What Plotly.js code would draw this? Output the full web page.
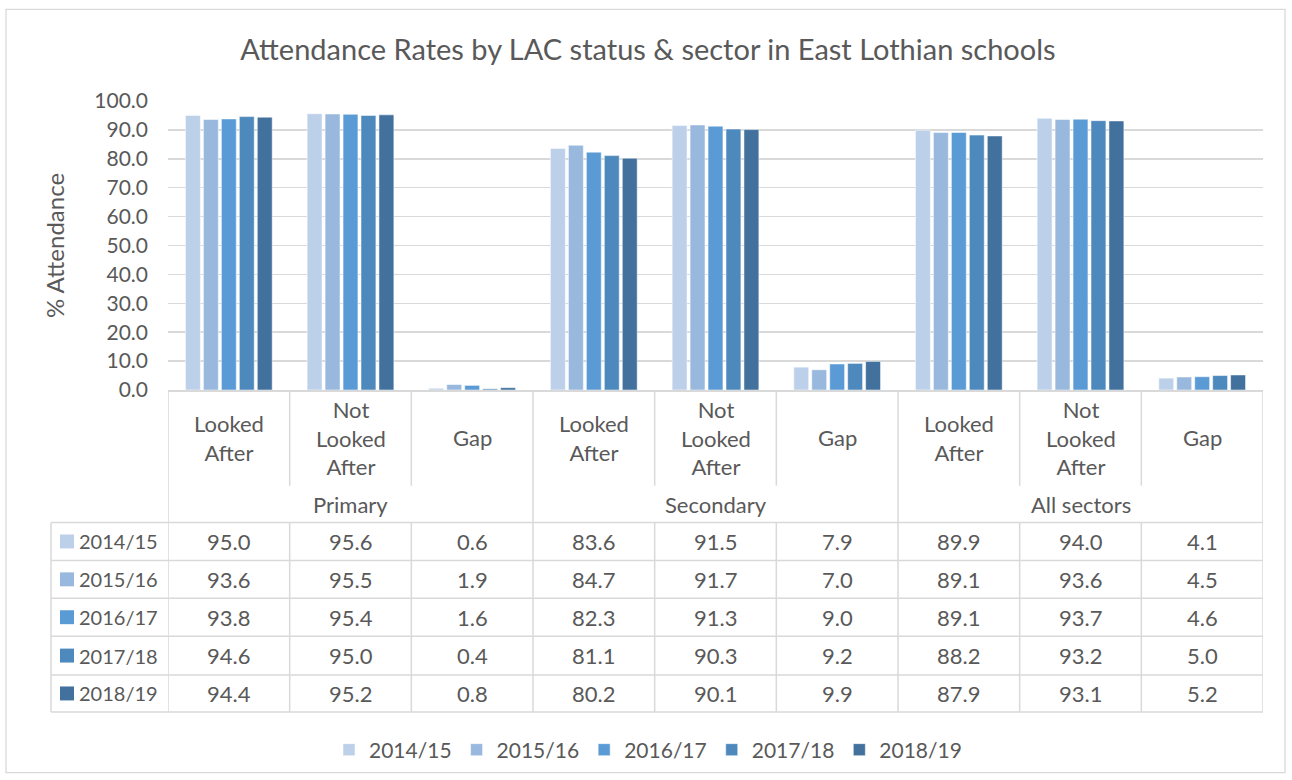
<!DOCTYPE html>
<html><head><meta charset="utf-8">
<script src="https://cdn.plot.ly/plotly-3.0.1.min.js"></script>
<style>body{margin:0;background:#fff}</style>
</head><body><div id="chart" style="width:1292px;height:780px"></div>
<script>
// ---- data ----
const categoryLabels = ["Looked<br>After","Not<br>Looked<br>After","Gap","Looked<br>After","Not<br>Looked<br>After","Gap","Looked<br>After","Not<br>Looked<br>After","Gap"];
const groups = ["Primary","Secondary","All sectors"];
const years = ["2014/15","2015/16","2016/17","2017/18","2018/19"];
const v2014_15 = [95.0,95.6,0.6,83.6,91.5,7.9,89.9,94.0,4.1];
const v2015_16 = [93.6,95.5,1.9,84.7,91.7,7.0,89.1,93.6,4.5];
const v2016_17 = [93.8,95.4,1.6,82.3,91.3,9.0,89.1,93.7,4.6];
const v2017_18 = [94.6,95.0,0.4,81.1,90.3,9.2,88.2,93.2,5.0];
const v2018_19 = [94.4,95.2,0.8,80.2,90.1,9.9,87.9,93.1,5.2];
const series = [v2014_15,v2015_16,v2016_17,v2017_18,v2018_19];
const colors = ["#BDD0EA","#98B8DE","#5B9BD5","#4E89BD","#41719C"];

// ---- layout geometry ----
const FW = 1292, FH = 780;
const L = 168, R = 29, T = 101, B = 389;
const W = FW - L - R, H = FH - T - B;
const py = y => (T + H - y) / H;     // pixel y -> paper y
const pxp = x => (x - L) / W;        // pixel x -> paper x
const FONT = "Lato, 'Open Sans', sans-serif";
const TXT = "#595959";
const LINE = "#D9D9D9";
const FS = 22;

const xs = categoryLabels.map((_, i) => i);

const traces = series.map((vals, k) => ({
  type: "bar",
  name: years[k],
  x: xs,
  y: vals,
  marker: {color: colors[k], line: {color: "rgba(255,255,255,0.5)", width: 1}},
  hoverinfo: "y+name"
}));

const shapes = [];
const annotations = [];
const ln = (s) => shapes.push(Object.assign({type: "line", line: {color: LINE, width: 1.5}, layer: "above"}, s));

// table geometry (pixels)
const headTop = 391, headBottom = 487, groupBottom = 524;
const rowTops = [524, 562, 600, 638, 677];
const rowBottom = 714;
const tableLeft = 51;

// vertical lines between categories
for (let i = 0; i <= xs.length; i++) {
  const xb = i - 0.5;
  const full = (i % 3 === 0);
  ln({xref: "x", yref: "paper", x0: xb, x1: xb, y0: py(headTop), y1: py(full ? rowBottom : headBottom)});
  if (!full) ln({xref: "x", yref: "paper", x0: xb, x1: xb, y0: py(groupBottom), y1: py(rowBottom)});
}
// horizontal lines
rowTops.concat([rowBottom]).forEach(y => {
  ln({xref: "paper", yref: "paper", x0: pxp(tableLeft), x1: 1, y0: py(y), y1: py(y)});
});
// left border of row labels
ln({xref: "paper", yref: "paper", x0: pxp(tableLeft), x1: pxp(tableLeft), y0: py(groupBottom), y1: py(rowBottom)});

// outer chart border
shapes.push({type: "rect", xref: "paper", yref: "paper", x0: pxp(6), x1: pxp(1285), y0: py(9), y1: py(775),
  line: {color: LINE, width: 1.3}, fillcolor: "rgba(0,0,0,0)", layer: "below"});

// category header labels
categoryLabels.forEach((lab, i) => {
  annotations.push({xref: "x", yref: "paper", x: i, y: py((headTop + headBottom) / 2), text: lab,
    showarrow: false, font: {family: FONT, size: FS, color: TXT}, xanchor: "center", yanchor: "middle", align: "center"});
});
// group labels
groups.forEach((g, j) => {
  annotations.push({xref: "x", yref: "paper", x: j * 3 + 1, y: py((headBottom + groupBottom) / 2), text: g,
    showarrow: false, font: {family: FONT, size: FS, color: TXT}, xanchor: "center", yanchor: "middle"});
});
// row labels and values
series.forEach((vals, k) => {
  const yc = (rowTops[k] + (k < 4 ? rowTops[k + 1] : rowBottom)) / 2;
  shapes.push({type: "rect", xref: "paper", yref: "paper", x0: pxp(60), x1: pxp(74), y0: py(yc - 7), y1: py(yc + 7),
    fillcolor: colors[k], line: {width: 0}});
  annotations.push({xref: "paper", yref: "paper", x: pxp(77), y: py(yc), text: years[k], showarrow: false,
    font: {family: FONT, size: 20, color: TXT}, xanchor: "left", yanchor: "middle"});
  vals.forEach((v, i) => {
    annotations.push({xref: "x", yref: "paper", x: i, y: py(yc), text: v.toFixed(1), showarrow: false,
      font: {family: FONT, size: FS, color: TXT}, xanchor: "center", yanchor: "middle"});
  });
});

const layout = {
  width: FW, height: FH,
  margin: {l: L, r: R, t: T, b: B},
  paper_bgcolor: "#fff", plot_bgcolor: "#fff",
  font: {family: FONT, color: TXT, size: FS},
  title: {text: "Attendance Rates by LAC status &amp; sector in East Lothian schools",
    x: 648 / FW, xref: "container", xanchor: "center", y: 1 - 50 / FH, yref: "container", yanchor: "middle",
    font: {family: FONT, size: 29, color: TXT}},
  barmode: "group", bargap: 0.262, bargroupgap: 0.17,
  xaxis: {range: [-0.5, 8.5], showticklabels: false, showgrid: false, zeroline: false,
    showline: true, linecolor: LINE, linewidth: 1.5, ticks: "", fixedrange: true},
  yaxis: {range: [0, 100], dtick: 10, tickformat: ".1f", showgrid: true, gridcolor: LINE, gridwidth: 1.5,
    zeroline: false, showline: false, ticks: "", ticklabelstandoff: 19,
    tickfont: {family: FONT, size: 21, color: TXT},
    title: {text: "% Attendance", standoff: 22, font: {family: FONT, size: 24, color: TXT}}},
  legend: {orientation: "h", x: pxp(648), xanchor: "center", y: py(750), yanchor: "middle",
    font: {family: FONT, size: 21, color: TXT}, traceorder: "normal", itemwidth: 30},
  shapes: shapes,
  annotations: annotations,
  showlegend: true
};

Plotly.newPlot("chart", traces, layout, {displayModeBar: false, staticPlot: true});
</script>
</body></html>
